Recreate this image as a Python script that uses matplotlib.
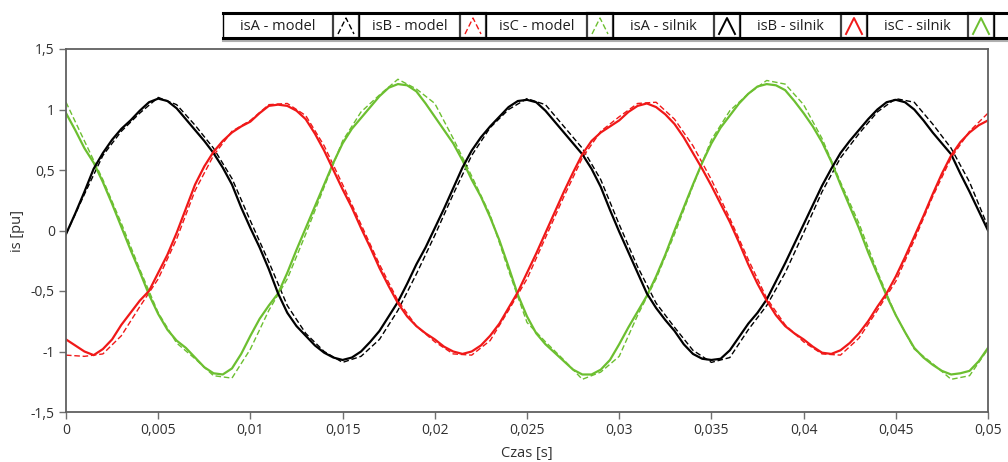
import numpy as np
import matplotlib
matplotlib.use("Agg")
import matplotlib.pyplot as plt
from matplotlib.patches import Rectangle
from matplotlib.ticker import FuncFormatter

plt.rcParams["font.family"] = ["Open Sans", "DejaVu Sans"]

# measured phase currents [pu], sampled every 0.5 ms from 0 to 50 ms
dt_silnik = 0.0005
isA_silnik = [0.97, 0.83, 0.68, 0.56, 0.40, 0.22, 0.03, -0.16, -0.34, -0.53,
              -0.69, -0.82, -0.91, -0.97, -1.05, -1.13, -1.18, -1.19, -1.14, -1.02,
              -0.87, -0.73, -0.62, -0.52, -0.35, -0.16, 0.02, 0.20, 0.38, 0.56,
              0.72, 0.84, 0.93, 1.02, 1.11, 1.18, 1.21, 1.20, 1.15, 1.05,
              0.94, 0.83, 0.72, 0.58, 0.42, 0.28, 0.11, -0.08, -0.30, -0.53,
              -0.71, -0.85, -0.94, -1.01, -1.08, -1.15, -1.19, -1.19, -1.15, -1.07,
              -0.94, -0.80, -0.67, -0.54, -0.38, -0.20, 0.00, 0.19, 0.38, 0.56,
              0.72, 0.85, 0.95, 1.05, 1.13, 1.19, 1.21, 1.20, 1.16, 1.07,
              0.97, 0.86, 0.73, 0.57, 0.38, 0.20, 0.02, -0.18, -0.36, -0.54,
              -0.70, -0.84, -0.97, -1.05, -1.11, -1.16, -1.19, -1.18, -1.16, -1.08,
              -0.97]
isB_silnik = [-0.03, 0.14, 0.32, 0.51, 0.64, 0.75, 0.84, 0.91, 0.99, 1.06,
              1.09, 1.07, 1.01, 0.92, 0.83, 0.74, 0.64, 0.52, 0.38, 0.19,
              0.02, -0.14, -0.32, -0.52, -0.68, -0.79, -0.87, -0.95, -1.01, -1.05,
              -1.07, -1.05, -1.00, -0.92, -0.83, -0.71, -0.59, -0.44, -0.28, -0.14,
              0.02, 0.18, 0.35, 0.52, 0.66, 0.77, 0.86, 0.94, 1.02, 1.07,
              1.08, 1.06, 0.99, 0.90, 0.81, 0.72, 0.63, 0.51, 0.36, 0.17,
              -0.01, -0.18, -0.35, -0.52, -0.64, -0.74, -0.83, -0.94, -1.02, -1.06,
              -1.07, -1.06, -0.99, -0.88, -0.77, -0.68, -0.57, -0.42, -0.27, -0.11,
              0.05, 0.21, 0.37, 0.51, 0.64, 0.74, 0.83, 0.92, 1.00, 1.06,
              1.08, 1.06, 1.00, 0.91, 0.81, 0.72, 0.63, 0.47, 0.32, 0.16,
              0.00]
isC_silnik = [-0.90, -0.95, -1.00, -1.03, -0.98, -0.90, -0.78, -0.68, -0.58, -0.50,
              -0.35, -0.20, -0.02, 0.18, 0.38, 0.53, 0.65, 0.74, 0.81, 0.86,
              0.90, 0.97, 1.03, 1.04, 1.03, 0.99, 0.92, 0.80, 0.66, 0.50,
              0.34, 0.19, 0.02, -0.14, -0.31, -0.46, -0.60, -0.71, -0.79, -0.85,
              -0.90, -0.96, -1.00, -1.02, -1.00, -0.95, -0.87, -0.77, -0.64, -0.51,
              -0.35, -0.19, -0.02, 0.15, 0.32, 0.48, 0.63, 0.74, 0.81, 0.86,
              0.91, 0.98, 1.03, 1.05, 1.02, 0.96, 0.88, 0.77, 0.64, 0.51,
              0.37, 0.22, 0.07, -0.10, -0.28, -0.44, -0.58, -0.70, -0.79, -0.85,
              -0.90, -0.96, -1.01, -1.02, -0.99, -0.93, -0.85, -0.75, -0.63, -0.52,
              -0.38, -0.22, -0.05, 0.12, 0.30, 0.47, 0.62, 0.73, 0.81, 0.87,
              0.91]

# model phase currents [pu], sampled every 1 ms from 0 to 50 ms
dt_model = 0.001
isA_model = [1.06, 0.74, 0.42, 0.06, -0.32, -0.68, -0.93, -1.06, -1.20, -1.22,
             -0.98, -0.66, -0.40, -0.03, 0.36, 0.74, 0.98, 1.12, 1.25, 1.17,
             1.05, 0.76, 0.45, 0.13, -0.33, -0.76, -0.92, -1.07, -1.23, -1.17,
             -1.04, -0.70, -0.40, -0.03, 0.37, 0.75, 0.99, 1.13, 1.24, 1.21,
             1.04, 0.76, 0.40, 0.06, -0.34, -0.70, -0.98, -1.10, -1.23, -1.20,
             -0.98]
isB_model = [-0.03, 0.30, 0.62, 0.82, 0.97, 1.10, 1.04, 0.87, 0.68, 0.43,
             0.08, -0.26, -0.62, -0.85, -1.00, -1.09, -1.04, -0.90, -0.66, -0.36,
             -0.04, 0.30, 0.62, 0.85, 1.00, 1.09, 1.04, 0.86, 0.68, 0.42,
             0.05, -0.30, -0.60, -0.80, -0.99, -1.09, -1.05, -0.82, -0.62, -0.35,
             -0.02, 0.32, 0.60, 0.80, 0.98, 1.09, 1.06, 0.88, 0.68, 0.40,
             0.03]
isC_model = [-1.03, -1.04, -1.02, -0.87, -0.63, -0.40, -0.07, 0.33, 0.62, 0.82,
             0.91, 1.04, 1.05, 0.95, 0.70, 0.38, 0.05, -0.28, -0.58, -0.79,
             -0.92, -1.02, -1.03, -0.91, -0.66, -0.40, -0.06, 0.28, 0.60, 0.82,
             0.94, 1.05, 1.06, 0.92, 0.70, 0.42, 0.10, -0.24, -0.56, -0.78,
             -0.92, -1.02, -1.03, -0.89, -0.66, -0.42, -0.08, 0.28, 0.60, 0.82,
             0.97]

legend_labels = ["isA - model", "isB - model", "isC - model",
                 "isA - silnik", "isB - silnik", "isC - silnik"]

GREEN, BLACK, RED = "#6cbf30", "#000000", "#f01818"
DASH = (0, (4, 2))

t_s = np.arange(len(isA_silnik)) * dt_silnik
t_m = np.arange(len(isA_model)) * dt_model

W, H = 1008, 462
fig = plt.figure(figsize=(W / 100, H / 100), dpi=100)
ax = fig.add_axes([66 / W, 1 - 412 / H, 922 / W, 363 / H])

for y, c in [(isA_model, GREEN), (isB_model, BLACK), (isC_model, RED)]:
    ax.plot(t_m, y, color=c, lw=1.0, ls=DASH)
for y, c in [(isA_silnik, GREEN), (isB_silnik, BLACK), (isC_silnik, RED)]:
    ax.plot(t_s, y, color=c, lw=1.6)

ax.set_xlim(0, 0.05)
ax.set_ylim(-1.5, 1.5)
ax.set_xticks(np.arange(0, 0.0501, 0.005))
ax.set_yticks(np.arange(-1.5, 1.51, 0.5))
comma = FuncFormatter(lambda v, _: f"{round(v, 4):g}".replace(".", ",").replace("-0,", "-0,"))
ax.xaxis.set_major_formatter(comma)
ax.yaxis.set_major_formatter(comma)
ax.tick_params(direction="out", length=5, width=1, color="#707070",
               labelsize=10, labelcolor="#303030", pad=3)
for s in ax.spines.values():
    s.set_color("#606060")
    s.set_linewidth(1.3)
ax.set_xlabel("Czas [s]", fontsize=10.5, color="#303030", labelpad=6)
ax.set_ylabel("is [pu]", fontsize=10.5, color="#303030", labelpad=4)

# legend strip across the top, drawn in pixel coordinates
lg = fig.add_axes([0, 0, 1, 1], zorder=5)
lg.set_xlim(0, W)
lg.set_ylim(H, 0)
lg.axis("off")
label_w, sym_w = 101, 26
top, bot = 13, 38
lg.add_patch(Rectangle((223, top), W - 223, bot - top, fc="white", ec="none"))
lg.plot([223, W], [40.5, 40.5], color="#b0b0b0", lw=1.5)
sym_styles = [(BLACK, DASH), (RED, DASH), (GREEN, DASH),
              (BLACK, "-"), (RED, "-"), (GREEN, "-")]
x = 223
widths = [110] + [label_w] * 5
for i, lab in enumerate(legend_labels):
    w = widths[i]
    lg.add_patch(Rectangle((x, top), w, bot - top, fc="white", ec="black", lw=1.0))
    lg.text(x + w / 2, (top + bot) / 2 + 0.5, lab, ha="center", va="center",
            fontsize=10.5, color="#202020")
    x += w
    c, ls = sym_styles[i]
    lg.add_patch(Rectangle((x, top), sym_w, bot - top, fc="white", ec="#404040", lw=1.6))
    lg.plot([x + 5, x + sym_w / 2, x + sym_w - 5], [bot - 4, top + 5, bot - 4],
            color=c, ls=ls, lw=1.0 if ls != "-" else 1.4)
    x += sym_w
lg.add_patch(Rectangle((x, top), W - x + 5, bot - top, fc="white", ec="black", lw=1.0))
lg.plot([223, W], [top, top], color="black", lw=2.2)
lg.plot([223, W], [bot, bot], color="black", lw=2.2)

fig.savefig("out.png", dpi=100)
